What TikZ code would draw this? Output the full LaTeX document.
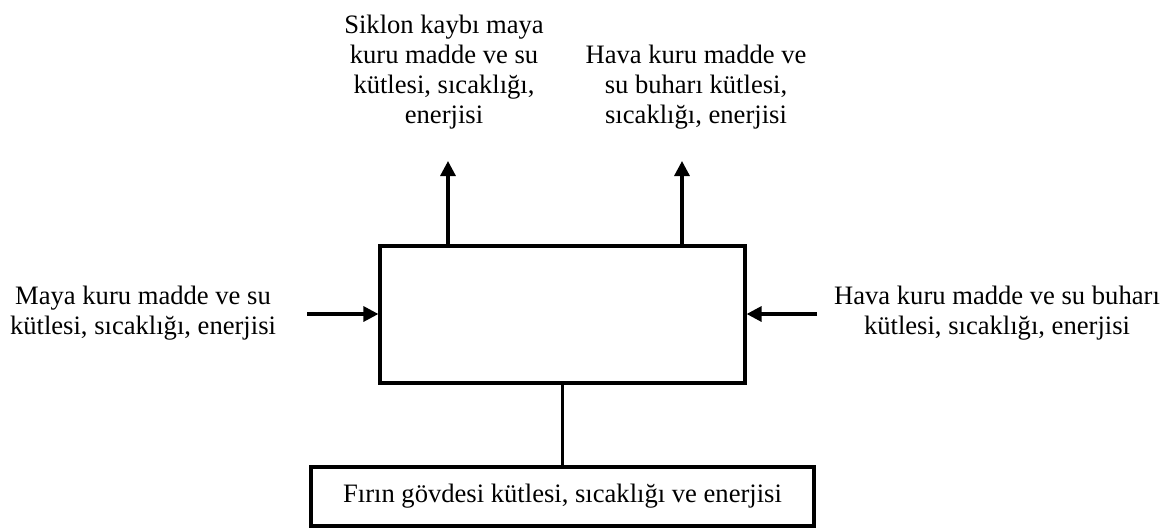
\documentclass[tikz,border=0pt]{standalone}
\usepackage{fontspec}
\setmainfont{Liberation Serif}
\usetikzlibrary{arrows.meta}
\begin{document}
\begin{tikzpicture}[x=1pt,y=-1pt,
  box/.style={draw, line width=3.2pt, inner sep=0pt},
  lbl/.style={align=center, inner sep=0pt, font=\fontsize{26.6}{30}\selectfont},
  arr/.style={line width=3.2pt, -{Triangle[width=15pt,length=15pt]}},
  link/.style={line width=3.2pt}]
\useasboundingbox (0,0) rectangle (1175,528);
% main process box
\node[box, minimum width=365pt, minimum height=137pt] (proc) at (562.5,314.5) {};
% bottom box
\node[box, minimum width=503pt, minimum height=59pt, font=\fontsize{26.6}{30}\selectfont] (body) at (562.5,496.5) {Fırın gövdesi kütlesi, sıcaklığı ve enerjisi};
% labels
\node[lbl] (tl) at (444,71.8) {Siklon kaybı maya\\kuru madde ve su\\kütlesi, sıcaklığı,\\enerjisi};
\node[lbl] (tr) at (696,86.8) {Hava kuru madde ve\\su buharı kütlesi,\\sıcaklığı, enerjisi};
\node[lbl] (lt) at (143,312.8) {Maya kuru madde ve su\\kütlesi, sıcaklığı, enerjisi};
\node[lbl] (rt) at (997,312.8) {Hava kuru madde ve su buharı\\kütlesi, sıcaklığı, enerjisi};
% free ends
\coordinate (upL) at (448,161);
\coordinate (upR) at (682,161);
\coordinate (inL) at (307,314);
\coordinate (inR) at (817,314);
% connectors
\draw[arr] (upL |- proc.north) -- (upL);
\draw[arr] (upR |- proc.north) -- (upR);
\draw[arr] (inL) -- (inL -| proc.west);
\draw[arr] (inR) -- (inR -| proc.east);
\draw[link] (proc.south) -- (body.north);
\end{tikzpicture}
\end{document}
